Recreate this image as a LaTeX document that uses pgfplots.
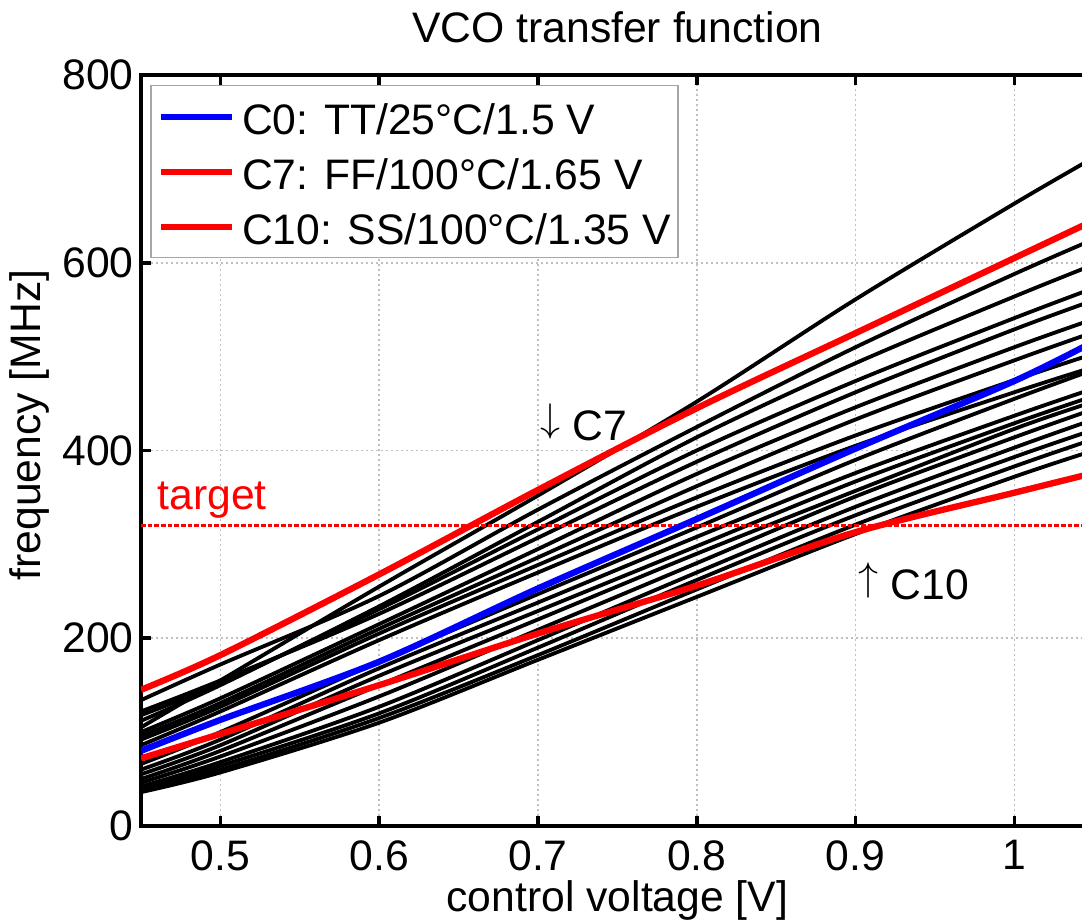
\documentclass[border=0pt]{standalone}
\usepackage{pgfplots}
\usepackage{pgfplotstable}
\pgfplotsset{compat=1.18}
\usepackage{fontspec}
\setmainfont{Liberation Sans}

% VCO transfer curves over the process/temperature/supply corners
\pgfplotstableread{
v     k1  k2  k3  k4  k5  k6  k7  k8  k9  k10 k11 k12 k13 k14 k15 k16 k17 k18 c0  c7  c10
0.45  105 134 112 118 122 100 96  92  86  66  60  55  50  46  42  40  38  36  80  145 72
0.50  155 172 150 152 155 136 131 127 122 100 92  86  80  74  68  64  60  57  113 182 98
0.60  255 245 234 231 226 215 210 205 198 175 168 160 150 138 127 120 115 110 175 268 150
0.70  352 337 324 316 307 295 286 278 270 247 238 229 220 209 198 190 182 177 253 358 205
0.80  452 425 414 400 388 375 362 350 340 318 308 298 290 280 270 262 252 244 327 445 256
0.90  561 510 493 474 462 446 433 416 405 390 376 367 357 351 340 331 321 311 402 525 313
1.00  663 588 564 541 529 510 496 475 462 455 437 429 423 414 403 393 383 372 474 605 355
1.05  712 625 598 573 560 540 526 503 489 486 466 458 452 444 433 422 412 400 516 645 376
}\vco

\begin{document}
\fontsize{12.8}{15.4}\selectfont
\begin{tikzpicture}
\begin{axis}[
  scale only axis,
  width=285.84pt, height=225.3pt,
  xmin=0.45, xmax=1.05, ymin=0, ymax=800,
  xtick={0.5,0.6,0.7,0.8,0.9,1.0},
  xticklabels={0.5,0.6,0.7,0.8,0.9,1},
  ytick={0,200,400,600,800},
  xtick pos=both, ytick pos=both,
  xticklabel pos=lower, yticklabel pos=left,
  tick align=inside,
  major tick length=3pt,
  tick style={line width=1.1pt, black},
  axis line style={line width=1.1pt},
  /pgf/number format/assume math mode=true,
  xticklabel style={inner sep=0pt, yshift=-4.2pt},
  yticklabel style={inner sep=0pt, xshift=-2pt},
  grid=major,
  major grid style={gray!50, line width=0.5pt, densely dotted},
  every axis title shift=0pt,
  title={VCO transfer function},
  title style={at={(axis description cs:0.5,1)}, anchor=base, yshift=9.6pt, inner sep=0pt},
  xlabel={control voltage [V]},
  xlabel style={at={(axis description cs:0.5,0)}, anchor=base, yshift=-25.8pt, inner sep=0pt},
  ylabel={frequency [MHz]},
  ylabel style={at={(axis description cs:-0.105,0.534)}, anchor=base, inner sep=0pt},
  legend style={
    at={(axis description cs:0,1)}, anchor=north west,
    xshift=2.7pt, yshift=-3pt,
    draw=gray!70, line width=0.45pt, fill=white,
    inner xsep=2.1pt, inner ysep=4pt,
    row sep=5.9pt, column sep=2.1pt,
    nodes={inner sep=0pt, text height=10.6pt, text depth=0pt},
  },
  legend cell align=left,
  legend image code/.code={\path (0pt,0pt) -- (1.8pt,0pt); \draw[#1] (1.8pt,0pt) -- (21.3pt,0pt);},
]
\pgfplotsinvokeforeach{1,...,18}{
  \addplot[black, line width=1.15pt, smooth, tension=0.5, forget plot] table[x=v, y=k#1] {\vco};
}
\addplot[red, line width=0.9pt, dash pattern=on 1.4pt off 0.6pt, forget plot]
  coordinates {(0.45,320) (1.05,320)};
\addplot[blue, line width=1.9pt, smooth, tension=0.5] table[x=v, y=c0] {\vco};
\addlegendentry{C0: TT/25°C/1.5 V}
\addplot[red, line width=1.9pt, smooth, tension=0.5] table[x=v, y=c7] {\vco};
\addlegendentry{C7: FF/100°C/1.65 V}
\addplot[red, line width=1.9pt, smooth, tension=0.5] table[x=v, y=c10] {\vco};
\addlegendentry{C10: SS/100°C/1.35 V}

\node[anchor=base west, inner sep=0pt, text=red] at (axis cs:0.4601,336.6) {target};
\node[anchor=base west, inner sep=0pt] at (axis cs:0.7013,411) {\raisebox{0.2em}{$\downarrow$} C7};
\node[anchor=base west, inner sep=0pt] at (axis cs:0.9015,240.7) {\raisebox{0.22em}{$\uparrow$} C10};

\coordinate (bbsw) at (axis cs:0.3612,-101.2);
\coordinate (bbne) at (axis cs:1.0426,879.9);
\end{axis}
\pgfresetboundingbox
\path[use as bounding box] (bbsw) rectangle (bbne);
\end{tikzpicture}
\end{document}
